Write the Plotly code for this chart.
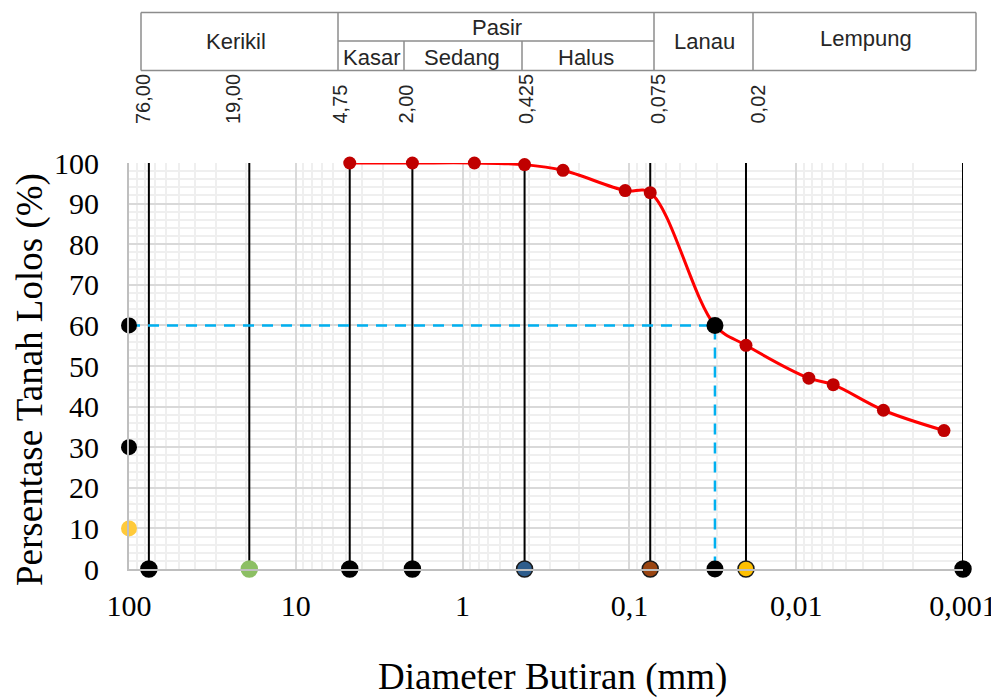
import plotly.graph_objects as go

# ---------------- data ----------------
sieve_d = [4.75, 2.0, 0.85, 0.425, 0.25, 0.106, 0.075, 0.0307, 0.02, 0.0084, 0.006, 0.003, 0.0013]
percent_passing = [100.0, 100.0, 100.0, 99.6, 98.2, 93.2, 92.7, 60.0, 55.1, 47.0, 45.4, 39.1, 34.1]

boundary_d = [76.0, 19.0, 4.75, 2.0, 0.425, 0.075, 0.02, 0.001]
d60 = 0.0307
p60 = 60.0
left_pct = [60.0, 30.0, 10.0]

x_tick_vals = [100, 10, 1, 0.1, 0.01, 0.001]
x_tick_text = ["100", "10", "1", "0,1", "0,01", "0,001"]
y_tick_vals = [0, 10, 20, 30, 40, 50, 60, 70, 80, 90, 100]

size_labels = ["76,00", "19,00", "4,75", "2,00", "0,425", "0,075", "0,02"]
soil_classes = ["Kerikil", "Pasir", "Lanau", "Lempung"]
sand_classes = ["Kasar", "Sedang", "Halus"]

x_title = "Diameter Butiran (mm)"
y_title = "Persentase Tanah Lolos (%)"

# ---------------- layout helpers ----------------
W, H = 999, 700
OFF = 8  # page body margin of the browser
PX0, PX1, PY_TOP, PY_BOT = 129, 963, 163, 569
FW, FH = W - OFF, H - OFF


def px(X):
    return (X - PX0) / (PX1 - PX0)


def py(Y):
    return (PY_BOT - Y) / (PY_BOT - PY_TOP)


SERIF = "Liberation Serif, Times New Roman, serif"
SANS = "Liberation Sans, Arial, sans-serif"

fig = go.Figure()

# black vertical boundary lines
vx, vy = [], []
for d in boundary_d:
    vx += [d, d, None]
    vy += [0, 100, None]
fig.add_trace(go.Scatter(x=vx, y=vy, mode="lines", line=dict(color="black", width=2),
                         hoverinfo="skip", showlegend=False, cliponaxis=False))

# blue dashed D60 guide
fig.add_trace(go.Scatter(x=[100, d60, d60], y=[p60, p60, 0], mode="lines",
                         line=dict(color="#00b0f0", width=2.5, dash="11px,8px"),
                         hoverinfo="skip", showlegend=False, cliponaxis=False))

# grain size distribution curve
fig.add_trace(go.Scatter(x=sieve_d, y=percent_passing, mode="lines+markers",
                         line=dict(color="#ff0000", width=3, shape="spline", smoothing=1.0),
                         marker=dict(color="#c00000", size=13, opacity=1),
                         showlegend=False, cliponaxis=False))

# bottom markers at boundaries
bottom_colors = ["black", "#8cbf63", "black", "black", "#2e5d8c", "#9a4511", "#ffc000", "black"]
bottom_lines = ["black", "#8cbf63", "black", "black", "#1a1a1a", "#1a1a1a", "#1a1a1a", "black"]
fig.add_trace(go.Scatter(x=boundary_d, y=[0] * len(boundary_d), mode="markers",
                         marker=dict(color=bottom_colors, size=16, opacity=1,
                                     line=dict(color=bottom_lines, width=1.5)),
                         showlegend=False, cliponaxis=False))

# D60 markers
fig.add_trace(go.Scatter(x=[d60, d60], y=[p60, 0], mode="markers",
                         marker=dict(color="black", size=17, opacity=1),
                         showlegend=False, cliponaxis=False))

# left markers on the y axis
fig.add_trace(go.Scatter(x=[100] * len(left_pct), y=left_pct, mode="markers",
                         marker=dict(color=["black", "black", "#ffca3a"], size=16, opacity=1),
                         showlegend=False, cliponaxis=False))

# ---------------- table (classification header) ----------------
shapes = []
line_style = dict(color="#8c8c8c", width=1.5)


def seg(x0, y0, x1, y1):
    shapes.append(dict(type="line", xref="paper", yref="paper",
                       x0=px(x0), y0=py(y0), x1=px(x1), y1=py(y1), line=line_style))


T_L, T_R, T_T, T_B, T_M = 141, 976, 12.5, 70.5, 41
seg(T_L, T_T, T_R, T_T)
seg(T_L, T_B, T_R, T_B)
seg(T_L, T_T, T_L, T_B)
seg(T_R, T_T, T_R, T_B)
for X in [338, 654, 753]:
    seg(X, T_T, X, T_B)
seg(338, T_M, 654, T_M)
for X in [404, 522]:
    seg(X, T_M, X, T_B)

annotations = []


def label(text, X, Y, size=20, font=SANS, angle=0, xanchor="center", yanchor="middle", color="#262626"):
    annotations.append(dict(text=text, xref="paper", yref="paper", x=px(X), y=py(Y),
                            showarrow=False, textangle=angle, xanchor=xanchor, yanchor=yanchor,
                            font=dict(family=font, size=size, color=color)))


class_pos = [(236, 41), (497, 27), (704, 41), (866, 39)]
for t, (X, Y) in zip(soil_classes, class_pos):
    label(t, X, Y, size=22)
sand_pos = [(371, 57), (462, 57), (586, 57)]
for t, (X, Y) in zip(sand_classes, sand_pos):
    label(t, X, Y, size=22)

size_label_x = [143, 233, 339, 405, 526, 658, 757]
for t, X in zip(size_labels, size_label_x):
    label(t, X, 126, size=20, angle=-90, yanchor="bottom")

# axis titles
label(x_title, 552, 700, size=37, font=SERIF, color="black", yanchor="bottom")
label(y_title, 30, 380, size=37, font=SERIF, angle=-90, color="black")

fig.update_layout(
    width=FW, height=FH,
    margin=dict(l=PX0 - OFF, r=FW - (PX1 - OFF), t=PY_TOP - OFF, b=FH - (PY_BOT - OFF),
                autoexpand=False),
    paper_bgcolor="white", plot_bgcolor="white",
    shapes=shapes, annotations=annotations,
    showlegend=False,
)

fig.update_xaxes(type="log", range=[2, -3], tickmode="array", tickvals=x_tick_vals,
                 ticktext=x_tick_text, ticks="", ticklabelstandoff=9, automargin=False,
                 tickfont=dict(family=SERIF, size=30, color="black"),
                 showgrid=True, gridcolor="#d9d9d9", gridwidth=1.5,
                 showline=True, linecolor="#bfbfbf", linewidth=2, mirror=False,
                 zeroline=False,
                 minor=dict(dtick="D1", showgrid=True, gridcolor="#efefef", gridwidth=1.5, ticks=""))

fig.update_yaxes(range=[0, 100], tickmode="array", tickvals=y_tick_vals, ticks="",
                 ticklabelstandoff=22, automargin=False,
                 tickfont=dict(family=SERIF, size=30, color="black"),
                 showgrid=True, gridcolor="#d9d9d9", gridwidth=1.5,
                 showline=True, linecolor="#bfbfbf", linewidth=2, zeroline=False,
                 minor=dict(dtick=2, showgrid=True, gridcolor="#efefef", gridwidth=1.5, ticks=""))

fig.write_html("out.html")
